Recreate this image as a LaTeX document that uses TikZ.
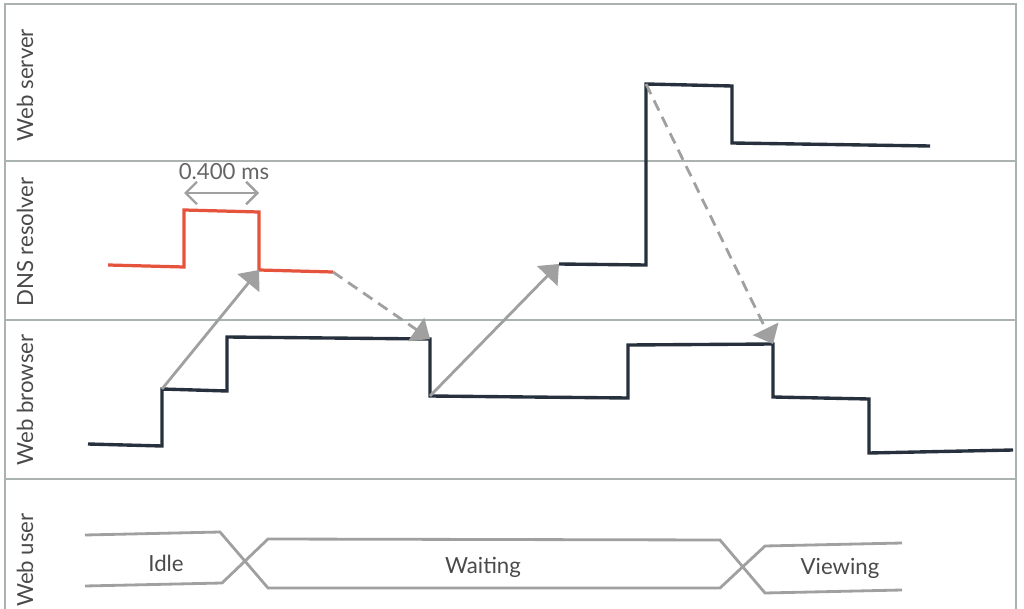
\documentclass[tikz,border=0pt]{standalone}
\usepackage{fontspec}
\setmainfont{Lato}
\usetikzlibrary{arrows.meta}
\definecolor{framegray}{HTML}{ABB3B1}
\definecolor{tracenavy}{HTML}{26313D}
\definecolor{dnsred}{HTML}{E5533D}
\definecolor{msggray}{HTML}{A0A0A0}
\definecolor{labelgray}{HTML}{4A4A4A}
\tikzset{
  frame/.style={draw=framegray, line width=2pt},
  lanelabel/.style={rotate=90, font=\fontsize{15.8}{18}\selectfont, text=labelgray, inner sep=0pt},
  statelabel/.style={font=\fontsize{15.8}{18}\selectfont, text=labelgray, inner sep=0pt},
  trace/.style={draw=tracenavy, line width=2.4pt},
  dnstrace/.style={draw=dnsred, line width=2.3pt},
  msg/.style={draw=msggray, line width=2pt, -{Triangle[length=12pt,width=20pt]}},
  reply/.style={msg, dash pattern=on 8pt off 5pt},
  stateline/.style={draw=msggray, line width=2pt},
}
\begin{document}
\begin{tikzpicture}[x=0.025cm, y=-0.025cm]
    \useasboundingbox (0,0) rectangle (1024,609);
    % Lanes
    \draw[frame] (5,612) -- (5,4) -- (1016,4) -- (1016,612);
    \foreach \ly in {161,320,479}
      \draw[frame] (5,\ly) -- (1016,\ly);
    \node[lanelabel] (server) at (25,85) {Web server};
    \node[lanelabel] (dns) at (25,242) {DNS resolver};
    \node[lanelabel] (browser) at (25,400) {Web browser};
    \node[lanelabel] (user) at (25,560) {Web user};
    % Trace corners
    \coordinate (b1) at (162,389);
    \coordinate (d1) at (259,270);
    \coordinate (d2) at (333,272);
    \coordinate (b2) at (430,339);
    \coordinate (b3) at (430,396);
    \coordinate (s1) at (559,264);
    \coordinate (s2) at (646,84);
    \coordinate (b4) at (773,344);
    % DNS resolver
    \draw[dnstrace] (108,265) -- (184,267) -- (184,210) -- (259,212) -- (d1) -- (d2);
    % Web browser
    \draw[trace] (88,444) -- (162,446) -- (b1) -- (227,391) -- (227,337) -- (b2) -- (b3)
      -- (628,398) -- (628,345) -- (b4) -- (773,397) -- (869,399) -- (869,453) -- (1013,450);
    % Web server
    \draw[trace] (s1) -- (646,265) -- (s2) -- (732,86) -- (732,143) -- (930,146);
    % Duration
    \coordinate (t1) at (184,193);
    \coordinate (t2) at (259,193);
    \draw[draw=msggray, line width=1.7pt, {Straight Barb[length=8pt,width=16pt]}-{Straight Barb[length=8pt,width=16pt]}] (t1) -- (t2);
    \node[statelabel, text=labelgray!85] (dur) at (224,172) {0.400 ms};
    % Messages
    \draw[msg] (b1) -- (d1);
    \draw[reply] (d2) -- (b2);
    \draw[msg] (b3) -- (s1);
    \draw[reply] (s2) -- (b4);
    % Web user states
    \draw[stateline] (85,535) -- (220,532) -- (268,588) -- (720,588) -- (765,546) -- (902,543);
    \draw[stateline] (85,586) -- (222,583) -- (268,539) -- (720,540) -- (765,593) -- (902,590);
    \node[statelabel] (idle) at (166,563) {Idle};
    \node[statelabel] (waiting) at (483,567) {Waiting};
    \node[statelabel] (viewing) at (840,568) {Viewing};
\end{tikzpicture}
\end{document}
